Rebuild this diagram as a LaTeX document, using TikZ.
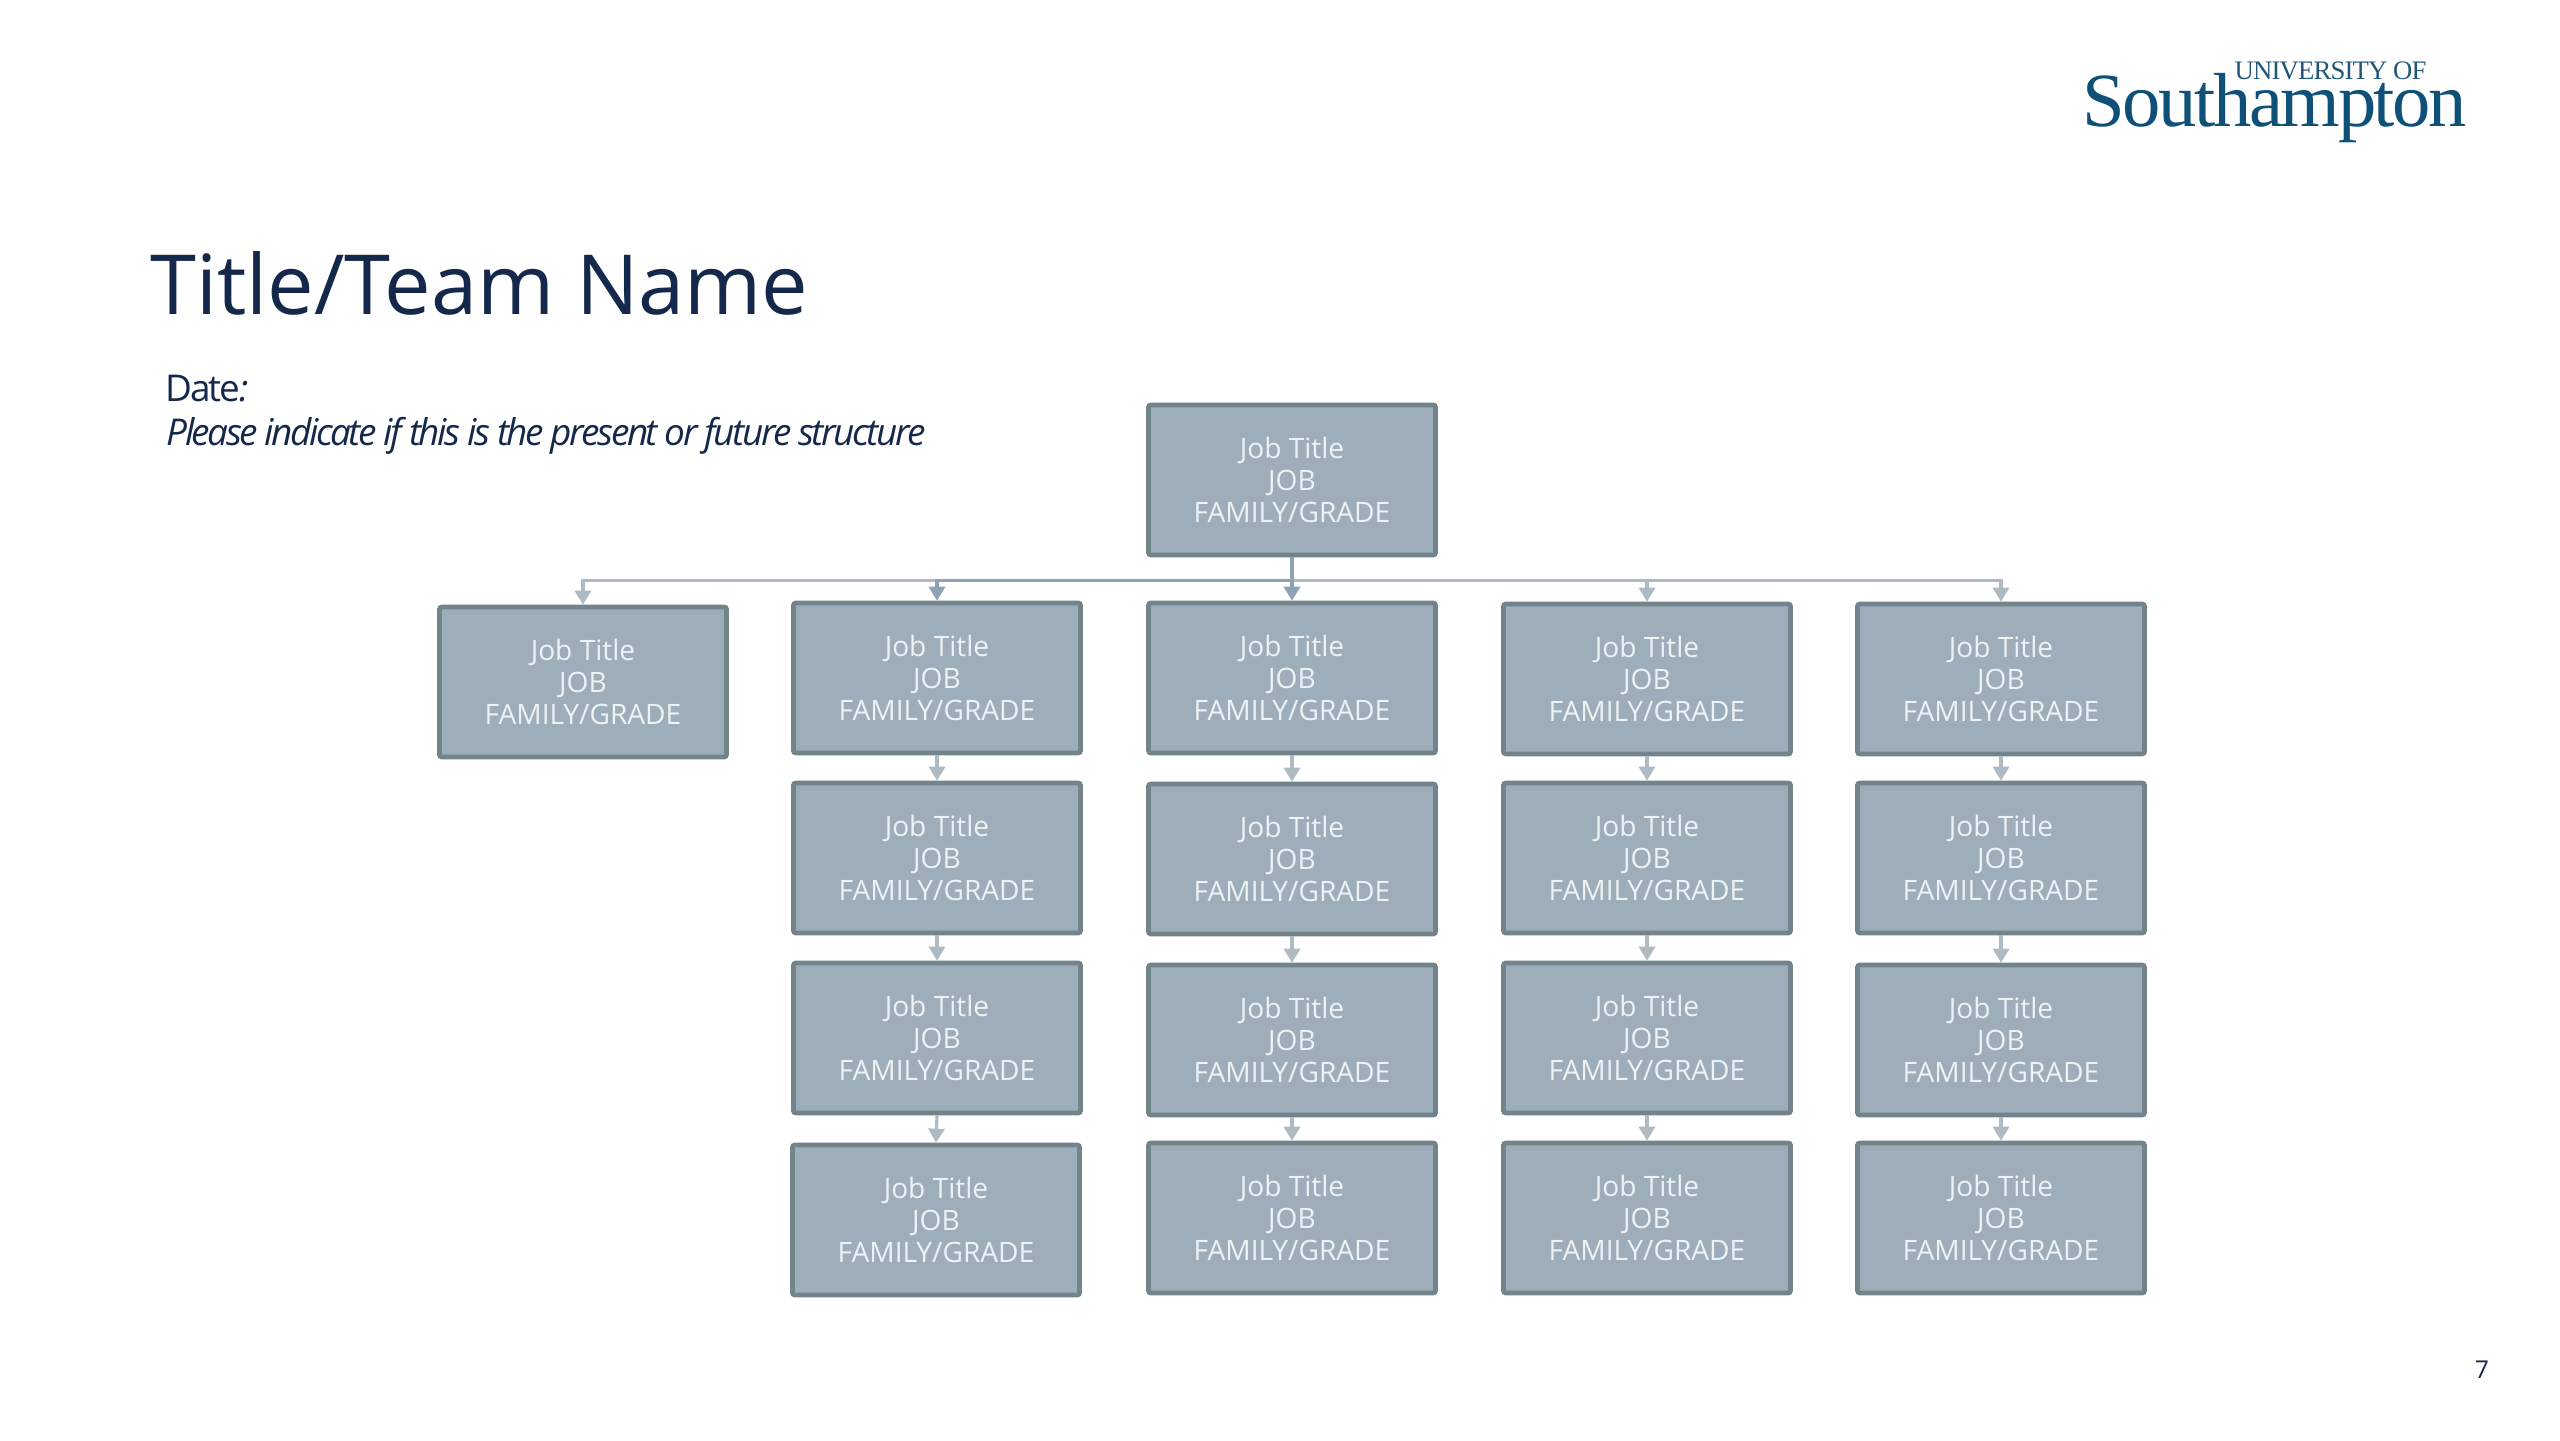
\documentclass[tikz,border=0pt]{standalone}
\usepackage{fontspec}
\usepackage{xcolor}
\usetikzlibrary{arrows.meta}
\setmainfont{Open Sans}
\newfontfamily\logofont{Liberation Serif}
\definecolor{navytext}{HTML}{14284B}
\definecolor{logoblue}{HTML}{0F5078}
\definecolor{boxfill}{HTML}{9DADB9}
\definecolor{boxline}{HTML}{728389}
\definecolor{boxtext}{HTML}{EDF2F5}
\definecolor{linkblue}{HTML}{8DA3B5}
\definecolor{linkgrey}{HTML}{AEBBC3}

\begin{document}
\begin{tikzpicture}[
    jobbox/.style = {
        draw=boxline, fill=boxfill, line width=1.3pt, rounded corners=0.6pt,
        minimum width=2.87cm, minimum height=1.50cm,
        align=center, inner sep=2pt, text=boxtext,
        font=\fontsize{8}{9.1}\selectfont
    },
    arr/.style = {-{Triangle[width=4.6pt,length=4pt]}, line width=0.9pt, color=linkblue},
    arrlight/.style = {arr, color=linkgrey},
    titletext/.style = {anchor=base west, inner sep=0pt, text=navytext}
]
\useasboundingbox (0,0) rectangle (25.6,14.4);

%% ---- HEADER ----
\node[anchor=base west, inner sep=0pt, text=logoblue, font=\logofont\fontsize{21.8}{24}\selectfont] (logo) at (20.82,13.13)
    {\addfontfeatures{LetterSpace=-3.2}Southampton};
\node[anchor=base west, inner sep=0pt, text=logoblue!85!gray, font=\logofont\fontsize{7.6}{10}\selectfont] (uni) at (22.34,13.60)
    {\addfontfeatures{LetterSpace=-3.2}UNIVERSITY OF};
\node[titletext, font=\fontsize{23.6}{26}\selectfont] (title) at (1.50,11.25) {Title/Team Name};
\node[titletext, font=\fontsize{10.5}{12}\selectfont] (date) at (1.65,10.38)
    {\addfontfeatures{LetterSpace=-6.2}Date\textit{:}};
\node[titletext, font=\fontsize{10.5}{12}\selectfont\itshape] (note) at (1.66,9.94)
    {\addfontfeatures{LetterSpace=-6.8}Please indicate if this is the present or future structure};
\node[inner sep=0pt, text=navytext, font=\fontsize{7}{8}\selectfont] (page) at (24.82,0.70) {7};

%% ---- TOP BOX ----
\node[jobbox] (top) at (12.92, 9.60) {Job Title\\JOB\\FAMILY/GRADE};

%% ---- FIRST COLUMN ----
\node[jobbox] (a1) at (5.83, 7.58) {Job Title\\JOB\\FAMILY/GRADE};

%% ---- SECOND COLUMN ----
\node[jobbox] (b1) at (9.37, 7.62) {Job Title\\JOB\\FAMILY/GRADE};
\node[jobbox] (b2) at (9.37, 5.82) {Job Title\\JOB\\FAMILY/GRADE};
\node[jobbox] (b3) at (9.37, 4.02) {Job Title\\JOB\\FAMILY/GRADE};
\node[jobbox] (b4) at (9.36, 2.20) {Job Title\\JOB\\FAMILY/GRADE};

%% ---- THIRD COLUMN ----
\node[jobbox] (c1) at (12.92, 7.62) {Job Title\\JOB\\FAMILY/GRADE};
\node[jobbox] (c2) at (12.92, 5.81) {Job Title\\JOB\\FAMILY/GRADE};
\node[jobbox] (c3) at (12.92, 4.00) {Job Title\\JOB\\FAMILY/GRADE};
\node[jobbox] (c4) at (12.92, 2.22) {Job Title\\JOB\\FAMILY/GRADE};

%% ---- FOURTH COLUMN ----
\node[jobbox] (d1) at (16.47, 7.61) {Job Title\\JOB\\FAMILY/GRADE};
\node[jobbox] (d2) at (16.47, 5.82) {Job Title\\JOB\\FAMILY/GRADE};
\node[jobbox] (d3) at (16.47, 4.02) {Job Title\\JOB\\FAMILY/GRADE};
\node[jobbox] (d4) at (16.47, 2.22) {Job Title\\JOB\\FAMILY/GRADE};

%% ---- FIFTH COLUMN ----
\node[jobbox] (e1) at (20.01, 7.61) {Job Title\\JOB\\FAMILY/GRADE};
\node[jobbox] (e2) at (20.01, 5.82) {Job Title\\JOB\\FAMILY/GRADE};
\node[jobbox] (e3) at (20.01, 4.00) {Job Title\\JOB\\FAMILY/GRADE};
\node[jobbox] (e4) at (20.01, 2.22) {Job Title\\JOB\\FAMILY/GRADE};

%% ---- ARROWS ----
\draw[arrlight] (top.south) -- ++(0,-0.23) -| (e1.north);
\draw[arrlight] (top.south) -- ++(0,-0.23) -| (d1.north);
\draw[arrlight] (top.south) -- ++(0,-0.23) -| (a1.north);
\draw[arr] (top.south) -- ++(0,-0.23) -| (b1.north);
\draw[arr, line width=1.2pt] (top.south) -- (c1.north);

\draw[arrlight] (b1.south) -- (b2.north);
\draw[arrlight] (b2.south) -- (b3.north);
\draw[arrlight] (b3.south) -- (b4.north);

\draw[arrlight] (c1.south) -- (c2.north);
\draw[arrlight] (c2.south) -- (c3.north);
\draw[arrlight] (c3.south) -- (c4.north);

\draw[arrlight] (d1.south) -- (d2.north);
\draw[arrlight] (d2.south) -- (d3.north);
\draw[arrlight] (d3.south) -- (d4.north);

\draw[arrlight] (e1.south) -- (e2.north);
\draw[arrlight] (e2.south) -- (e3.north);
\draw[arrlight] (e3.south) -- (e4.north);

\end{tikzpicture}
\end{document}
